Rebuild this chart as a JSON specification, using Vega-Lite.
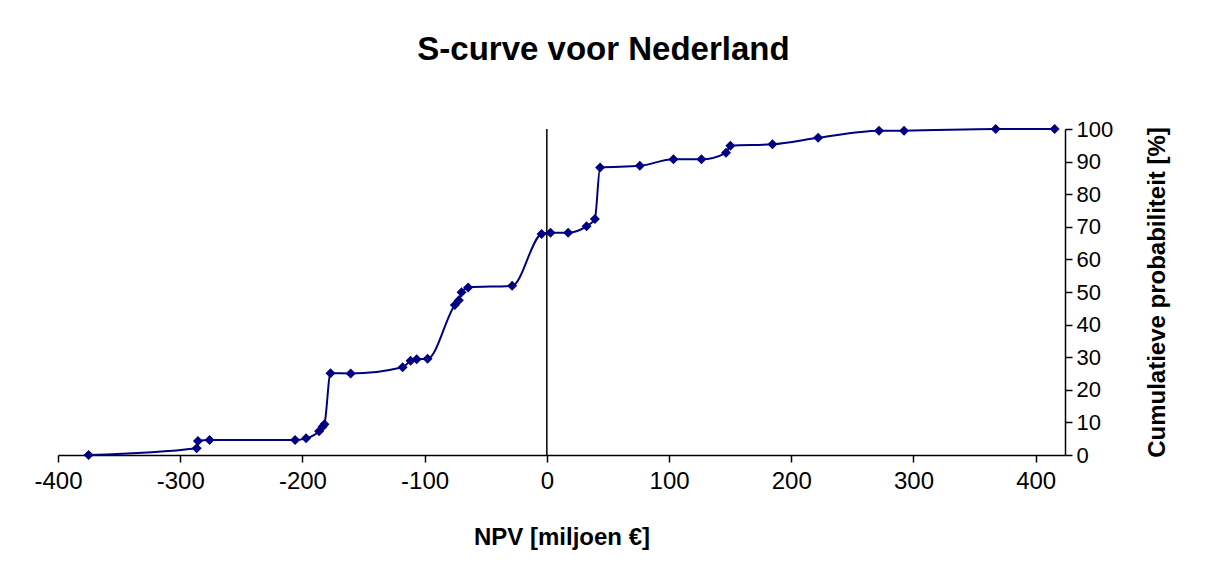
{
  "$schema": "https://vega.github.io/schema/vega-lite/v6.json",
  "width": 1007,
  "height": 326,
  "autosize": "none",
  "padding": {"left": 58, "top": 129, "right": 140, "bottom": 119},
  "background": "white",
  "title": {"text": "S-curve voor Nederland", "font": "Liberation Sans", "fontSize": 33, "fontWeight": "bold", "color": "black", "anchor": "middle", "dx": 42, "offset": 25, "baseline": "alphabetic"},
  "config": {
    "view": {"stroke": null},
    "axis": {"grid": false, "domainColor": "black", "tickColor": "black", "labelColor": "black", "titleColor": "black", "labelFont": "Liberation Sans", "titleFont": "Liberation Sans", "labelFontSize": 24, "titleFontSize": 24, "titleFontWeight": "bold", "domainWidth": 1.5, "tickWidth": 1.5}
  },
  "data": {"values": [
    {"npv": -375, "cum": 0},
    {"npv": -286.5, "cum": 2.1},
    {"npv": -285.5, "cum": 4.3},
    {"npv": -276, "cum": 4.6},
    {"npv": -206, "cum": 4.6},
    {"npv": -197, "cum": 5.1},
    {"npv": -186.4, "cum": 7.3},
    {"npv": -183.5, "cum": 8.7},
    {"npv": -182, "cum": 9.4},
    {"npv": -177, "cum": 25.1},
    {"npv": -160.5, "cum": 25.0},
    {"npv": -118, "cum": 26.9},
    {"npv": -111.5, "cum": 28.9},
    {"npv": -106.5, "cum": 29.4},
    {"npv": -97.6, "cum": 29.5},
    {"npv": -75.3, "cum": 46},
    {"npv": -72, "cum": 47.5},
    {"npv": -69.8, "cum": 49.9},
    {"npv": -64.4, "cum": 51.4},
    {"npv": -28.4, "cum": 51.9},
    {"npv": -4.3, "cum": 67.8},
    {"npv": 3, "cum": 68.2},
    {"npv": 17.4, "cum": 68.2},
    {"npv": 32.5, "cum": 70.2},
    {"npv": 39.3, "cum": 72.4},
    {"npv": 43.6, "cum": 88.2},
    {"npv": 76.1, "cum": 88.7},
    {"npv": 103.6, "cum": 90.7},
    {"npv": 126.5, "cum": 90.7},
    {"npv": 146.6, "cum": 92.7},
    {"npv": 150.2, "cum": 94.9},
    {"npv": 184.6, "cum": 95.3},
    {"npv": 222, "cum": 97.3},
    {"npv": 271.8, "cum": 99.5},
    {"npv": 292.3, "cum": 99.5},
    {"npv": 367.3, "cum": 100},
    {"npv": 415.5, "cum": 100}
  ]},
  "layer": [
    {
      "data": {"values": [{"npv": 0}]},
      "mark": {"type": "rule", "color": "black", "strokeWidth": 1.5},
      "encoding": {
        "x": {"field": "npv", "type": "quantitative", "scale": {"domain": [-400, 424], "nice": false, "zero": false},
              "axis": {"values": [-400, -300, -200, -100, 0, 100, 200, 300, 400], "labelExpr": "replace(datum.label, '−', '-')", "title": "NPV [miljoen €]", "tickSize": 7, "labelPadding": 7, "titlePadding": 32, "labelFlush": false, "labelOverlap": false}}
      }
    },
    {
      "mark": {"type": "line", "color": "#000080", "strokeWidth": 2, "interpolate": "monotone"},
      "encoding": {
        "x": {"field": "npv", "type": "quantitative", "scale": {"domain": [-400, 424], "nice": false, "zero": false},
              "axis": {"values": [-400, -300, -200, -100, 0, 100, 200, 300, 400], "labelExpr": "replace(datum.label, '−', '-')", "title": "NPV [miljoen €]", "tickSize": 7, "labelPadding": 7, "titlePadding": 32, "labelFlush": false, "labelOverlap": false}},
        "y": {"field": "cum", "type": "quantitative", "scale": {"domain": [0, 100], "nice": false},
              "axis": {"orient": "right", "values": [0, 10, 20, 30, 40, 50, 60, 70, 80, 90, 100], "title": "Cumulatieve probabiliteit [%]", "tickSize": 7, "labelPadding": 4, "labelFontSize": 22, "labelAlign": "left", "labelBaseline": "middle", "titleAngle": -90, "titlePadding": 57, "labelFlush": false, "labelOverlap": false}}
      }
    },
    {
      "mark": {"type": "point", "shape": "diamond", "filled": true, "color": "#000080", "size": 100, "opacity": 1},
      "encoding": {
        "x": {"field": "npv", "type": "quantitative", "scale": {"domain": [-400, 424], "nice": false, "zero": false},
              "axis": {"values": [-400, -300, -200, -100, 0, 100, 200, 300, 400], "labelExpr": "replace(datum.label, '−', '-')", "title": "NPV [miljoen €]", "tickSize": 7, "labelPadding": 7, "titlePadding": 32, "labelFlush": false, "labelOverlap": false}},
        "y": {"field": "cum", "type": "quantitative", "scale": {"domain": [0, 100], "nice": false},
              "axis": {"orient": "right", "values": [0, 10, 20, 30, 40, 50, 60, 70, 80, 90, 100], "title": "Cumulatieve probabiliteit [%]", "tickSize": 7, "labelPadding": 4, "labelFontSize": 22, "labelAlign": "left", "labelBaseline": "middle", "titleAngle": -90, "titlePadding": 57, "labelFlush": false, "labelOverlap": false}}
      }
    }
  ]
}
